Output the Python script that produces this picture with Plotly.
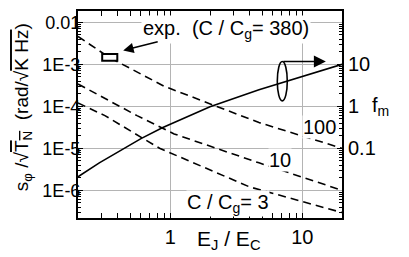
import math
import plotly.graph_objects as go

# ---- data ----
fm_x = [0.2, 0.29, 0.6, 0.87, 2.0, 4.7, 20]
fm_y = [0.021, 0.045, 0.17, 0.31, 0.98, 2.48, 10]

c100_x = [0.2, 0.345, 0.9, 4.7, 20]
c100_y = [4.6e-3, 1.46e-3, 3.0e-4, 4.1e-5, 1.0e-5]

c10_x = [0.2, 0.56, 1.07, 4.7, 20]
c10_y = [3.4e-4, 6.0e-5, 2.2e-5, 4.5e-6, 1.0e-6]

c3_x = [0.2, 0.32, 0.83, 4.0, 20]
c3_y = [1.2e-4, 6.0e-5, 1.0e-5, 1.2e-6, 2.95e-7]

exp_x = [0.305, 0.397]
exp_y = [1.21e-3, 1.77e-3]

y_ticks = [1e-2, 1e-3, 1e-4, 1e-5, 1e-6]
y_ticktext = ["0.01", "1E-3", "1E-4", "1E-5", "1E-6"]
y2_ticks = [0.1, 1, 10]
y2_ticktext = ["0.1", "1", "10"]
x_ticks = [1, 10]
x_ticktext = ["1", "10"]

FONT = "Liberation Sans, Arial, sans-serif"
L = math.log10


def minor_vals(lo, hi):
    out = []
    for k in range(lo, hi):
        for m in range(2, 10):
            out.append(m * 10 ** k)
    return out


fig = go.Figure()
dash = "8px,5px"
for xs, ys in [(c100_x, c100_y), (c10_x, c10_y), (c3_x, c3_y)]:
    fig.add_trace(go.Scatter(x=xs, y=ys, mode="lines",
                             line=dict(color="black", width=1.6, dash=dash),
                             showlegend=False, hoverinfo="skip"))
fig.add_trace(go.Scatter(x=fm_x, y=fm_y, mode="lines", yaxis="y2",
                         line=dict(color="black", width=1.6),
                         showlegend=False, hoverinfo="skip"))

grid = "#b4b4b4"
fig.update_layout(
    width=401, height=249,
    margin=dict(l=70, r=67, t=1, b=39),
    paper_bgcolor="white", plot_bgcolor="white",
    font=dict(family=FONT, size=20, color="black"),
    xaxis=dict(type="log", range=[L(0.2), L(20)],
               tickmode="array", tickvals=x_ticks, ticktext=x_ticktext,
               showgrid=True, gridcolor=grid, gridwidth=1,
               showline=True, linecolor="black", linewidth=2, mirror="allticks",
               ticks="inside", ticklen=5, tickcolor="black",
               minor=dict(tickmode="array", tickvals=minor_vals(-1, 2),
                          ticks="inside", ticklen=3, tickcolor="black", showgrid=False),
               zeroline=False, tickfont=dict(size=20)),
    yaxis=dict(type="log", range=[-6.66, -1.73],
               tickmode="array", tickvals=y_ticks, ticktext=y_ticktext,
               showgrid=True, gridcolor=grid, gridwidth=1,
               showline=True, linecolor="black", linewidth=2, mirror=False,
               ticks="inside", ticklen=5, tickcolor="black",
               ticklabelstandoff=-8,
               minor=dict(tickmode="array", tickvals=minor_vals(-7, -1),
                          ticks="inside", ticklen=3, tickcolor="black", showgrid=False),
               zeroline=False, tickfont=dict(size=18)),
    yaxis2=dict(type="log", range=[-2.66, 2.27], overlaying="y", side="right",
                tickmode="array", tickvals=y2_ticks, ticktext=y2_ticktext,
                showgrid=False,
                showline=True, linecolor="black", linewidth=2,
                ticks="inside", ticklen=5, tickcolor="black",
                minor=dict(tickmode="array", tickvals=minor_vals(-3, 3),
                           ticks="inside", ticklen=3, tickcolor="black", showgrid=False),
                zeroline=False, tickfont=dict(size=20)),
)

# experimental point rectangle
fig.add_shape(type="rect", xref="x", yref="y",
              x0=exp_x[0], x1=exp_x[1], y0=exp_y[0], y1=exp_y[1],
              line=dict(color="black", width=2), fillcolor="white", layer="above")
# ellipse marking the right-axis curve
fig.add_shape(type="circle", xref="x", yref="y",
              x0=6.47, x1=7.7, y0=1.35e-4, y1=1.17e-3,
              line=dict(color="black", width=1.6))

ann = []
ann.append(dict(x=L(0.6), y=L(6.6e-3), xref="x", yref="y", xanchor="left", yanchor="middle",
                text="exp.  (C / C<sub>g</sub>= 380)", showarrow=False, bgcolor="white",
                font=dict(size=20)))
ann.append(dict(x=L(0.44), y=L(2.14e-3), xref="x", yref="y", ax=36, ay=-9,
                text="", showarrow=True, arrowhead=2, arrowsize=1.3, arrowwidth=1.6,
                arrowcolor="black"))
ann.append(dict(x=L(15.1), y=L(1.17e-3), xref="x", yref="y", ax=-44, ay=0,
                text="", showarrow=True, arrowhead=2, arrowsize=1.5, arrowwidth=1.6,
                arrowcolor="black"))
ann.append(dict(x=L(13.5), y=L(3.3e-5), xref="x", yref="y", text="100", showarrow=False,
                bgcolor="white", borderpad=0, font=dict(size=20)))
ann.append(dict(x=L(6.8), y=L(5.2e-6), xref="x", yref="y", text="10", showarrow=False,
                bgcolor="white", borderpad=0, font=dict(size=20)))
ann.append(dict(x=L(2.75), y=L(4.8e-7), xref="x", yref="y", text="C / C<sub>g</sub>= 3",
                showarrow=False, bgcolor="white", borderpad=0, font=dict(size=20)))
ann.append(dict(x=L(2.8), y=-0.105, xref="x", yref="paper", yanchor="middle",
                text="E<sub>J</sub> / E<sub>C</sub>", showarrow=False, font=dict(size=21)))
ann.append(dict(x=1.186, y=0, xref="paper", yref="y2", text="f<sub>m</sub>",
                showarrow=False, font=dict(size=20)))
ann.append(dict(x=-0.208, y=0.536, xref="paper", yref="paper", textangle=-90,
                xanchor="center", yanchor="middle",
                text="s<sub>φ</sub> /√<span style='text-decoration:overline'>T<sub>N</sub></span>  (rad/√<span style='text-decoration:overline'>K Hz</span>)",
                showarrow=False, font=dict(size=19)))
fig.update_layout(annotations=ann)

fig.write_html("out.html")
